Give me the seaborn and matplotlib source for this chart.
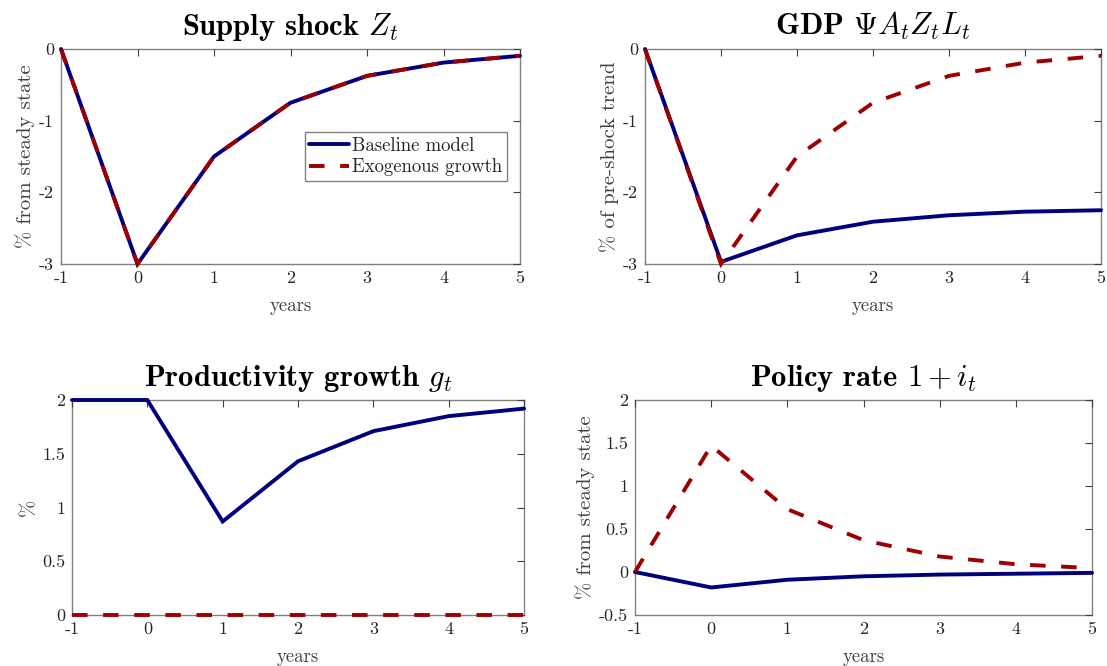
import numpy as np
import pandas as pd
import matplotlib
matplotlib.use("Agg")
import matplotlib.pyplot as plt
import seaborn as sns
from matplotlib.ticker import FuncFormatter, MultipleLocator

years = [-1, 0, 1, 2, 3, 4, 5]

z_base = [0, -3.0, -1.5, -0.75, -0.375, -0.19, -0.095]
z_exo = [0, -3.0, -1.5, -0.75, -0.375, -0.19, -0.095]

gdp_base = [0, -2.97, -2.6, -2.41, -2.32, -2.27, -2.25]
gdp_exo = [0, -3.0, -1.5, -0.75, -0.375, -0.19, -0.095]

g_base = [2.0, 2.0, 0.87, 1.43, 1.71, 1.85, 1.92]
g_exo = [0, 0, 0, 0, 0, 0, 0]

i_base = [0, -0.18, -0.09, -0.05, -0.03, -0.02, -0.01]
i_exo = [0, 1.47, 0.73, 0.37, 0.18, 0.09, 0.045]

titles = [r"Supply shock $Z_t$", r"GDP $\Psi A_t Z_t L_t$",
          r"Productivity growth $g_t$", r"Policy rate $1+i_t$"]
ylabels = ["% from steady state", "% of pre-shock trend", "%", "% from steady state"]
ylims = [(-3, 0), (-3, 0), (0, 2), (-0.5, 2)]
ysteps = [1, 1, 0.5, 0.5]
legend_labels = ["Baseline model", "Exogenous growth"]

sns.set_style("white")
plt.rcParams.update({
    "font.family": ["cmr10", "DejaVu Serif"],
    "mathtext.fontset": "cm",
    "axes.unicode_minus": False,
    "axes.formatter.use_mathtext": False,
})

W, H = 1107, 666
fig = plt.figure(figsize=(W / 100, H / 100), dpi=100)

pos_px = [(61, 49, 520, 264), (645, 49, 1101, 264),
          (72, 400, 524, 615), (635, 400, 1092, 615)]

series = [(z_base, z_exo), (gdp_base, gdp_exo), (g_base, g_exo), (i_base, i_exo)]

blue = "#00007f"
red = "#9c0000"
spine_col = "#808080"

fmt = FuncFormatter(lambda v, p: ("%g" % v))

for k in range(4):
    l, t, r, b = pos_px[k]
    ax = fig.add_axes([l / W, 1 - b / H, (r - l) / W, (b - t) / H])
    base, exo = series[k]
    df = pd.DataFrame({"year": years, "base": base, "exo": exo})
    sns.lineplot(data=df, x="year", y="base", color=blue, lw=2.8, ax=ax,
                 label=legend_labels[0], legend=False)
    sns.lineplot(data=df, x="year", y="exo", color=red, lw=2.8, ax=ax,
                 label=legend_labels[1], legend=False)
    ax.lines[-1].set_linestyle((0, (4.0, 4.0)))
    for ln in ax.lines:
        ln.set_solid_joinstyle("miter")
        ln.set_dash_joinstyle("miter")
        ln.set_clip_on(False)
    ax.set_xlim(-1, 5)
    ax.set_ylim(*ylims[k])
    ax.xaxis.set_major_locator(MultipleLocator(1))
    ax.yaxis.set_major_locator(MultipleLocator(ysteps[k]))
    ax.xaxis.set_major_formatter(fmt)
    ax.yaxis.set_major_formatter(fmt)
    for sp in ax.spines.values():
        sp.set_color(spine_col)
        sp.set_linewidth(1.0)
        sp.set_visible(True)
        sp.set_zorder(0.5)
    ax.tick_params(axis="both", which="both", direction="in", length=5,
                   width=0.8, color="#404040", labelsize=13, labelcolor="#262626",
                   top=True, right=True, pad=5)
    ax.set_xlabel("years", fontsize=13.5, color="#404040", labelpad=8)
    ax.set_ylabel(ylabels[k], fontsize=15, color="#404040", labelpad=3)
    ax.set_title(titles[k], fontsize=22, fontfamily="cmb10", color="black", pad=10)
    if k == 0:
        leg = ax.legend(loc="upper right", bbox_to_anchor=(0.972, 0.614),
                        fontsize=13.5, frameon=True, fancybox=False,
                        edgecolor=spine_col, framealpha=1, handlelength=2.1,
                        handletextpad=0.2, borderpad=0.25, labelspacing=0.2,
                        borderaxespad=0)
        leg.get_frame().set_linewidth(1.0)

fig.savefig("out.png", dpi=100)
